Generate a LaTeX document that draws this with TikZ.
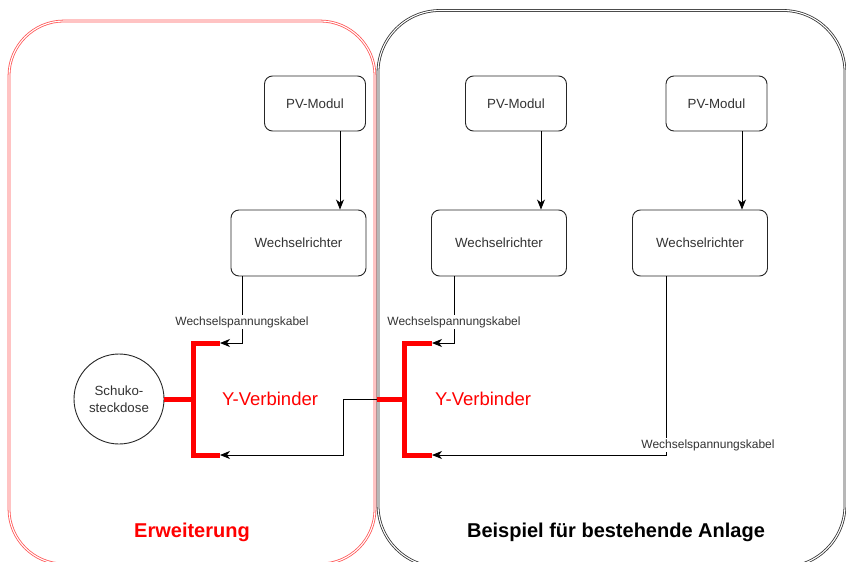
\documentclass[tikz,border=0pt]{standalone}
\usepackage{fontspec}
\setmainfont{Liberation Sans}
\usetikzlibrary{arrows.meta}
\definecolor{ygred}{HTML}{FF0000}
\definecolor{grpred}{HTML}{FF5555}
\definecolor{txtgray}{HTML}{333333}
\begin{document}
\begin{tikzpicture}[x=1pt,y=-1pt,
  groupred/.style={draw=grpred, line width=0.8pt, double=white, double distance=1.1pt, rounded corners=55pt},
  groupblack/.style={draw=black!80, line width=0.8pt, double=white, double distance=1.1pt, rounded corners=62pt},
  unit/.style={draw=black!85, line width=0.9pt, rounded corners=8pt, fill=white, text=txtgray,
    font=\fontsize{13.3}{16}\selectfont, inner sep=0pt},
  pvbox/.style={unit, minimum width=101pt, minimum height=55pt},
  wrbox/.style={unit, minimum width=135pt, minimum height=66pt},
  socket/.style={draw=black!85, line width=0.9pt, circle, minimum size=90pt, inner sep=0pt, text=txtgray,
    font=\fontsize{13.3}{17}\selectfont, align=center},
  arr/.style={draw=black, line width=0.9pt, -{Stealth[length=10pt,width=8pt,inset=3pt]}},
  lbl/.style={fill=white, text=txtgray, font=\fontsize{12}{14}\selectfont, inner sep=1pt},
  yconn/.style={draw=ygred, line width=5pt, line join=miter},
  ylbl/.style={text=ygred, font=\fontsize{18.5}{22}\selectfont},
  title/.style={font=\bfseries\fontsize{20}{24}\selectfont}
]
\useasboundingbox (0,0) rectangle (846,562);
\fill[white] (0,0) rectangle (846,562);
\begin{scope}
  \clip (0,0) rectangle (846,562);
  \draw[groupred] (9,21) rectangle (375,564);
  \draw[groupblack] (378,10.5) rectangle (845,567);
\end{scope}

% PV modules and inverters
\node[pvbox] (pv1) at (315,103.5) {PV-Modul};
\node[pvbox] (pv2) at (516,103.5) {PV-Modul};
\node[pvbox] (pv3) at (716.5,103.5) {PV-Modul};
\node[wrbox] (wr1) at (298.5,243) {Wechselrichter};
\node[wrbox] (wr2) at (499,243) {Wechselrichter};
\node[wrbox] (wr3) at (700,243) {Wechselrichter};

\node[socket] (sd) at (119,399) {Schuko-\\steckdose};

% Y connector coordinates
\coordinate (y1top) at (220,343);
\coordinate (y1bot) at (220,455);
\coordinate (y1mid) at (193,399);
\coordinate (y2top) at (432,343);
\coordinate (y2bot) at (432,455);
\coordinate (y2mid) at (404,399);
\coordinate (y2stem) at (377,399);

% arrows PV -> inverter
\draw[arr] ([xshift=25pt]pv1.south) -- ([xshift=25pt]pv1.south |- wr1.north);
\draw[arr] ([xshift=25pt]pv2.south) -- ([xshift=25pt]pv2.south |- wr2.north);
\draw[arr] ([xshift=25.5pt]pv3.south) -- ([xshift=25.5pt]pv3.south |- wr3.north);

% AC cables
\draw[arr] ([xshift=-56.5pt]wr1.south) |- (y1top);
\node[lbl] (l1) at (242,322) {Wechselspannungskabel};
\draw[arr] ([xshift=-45pt]wr2.south) |- (y2top);
\node[lbl] (l2) at (454,322) {Wechselspannungskabel};
\draw[arr] ([xshift=-34pt]wr3.south) |- (y2bot);
\node[lbl] (l3) at (708,445) {Wechselspannungskabel};
\draw[arr] (y2stem) -- (343,399) |- (y1bot);

% Y connectors
\draw[yconn] (y1top) -- (y1mid |- y1top) -- (y1mid |- y1bot) -- (y1bot);
\draw[yconn] (sd.east) -- (y1mid);
\draw[yconn] (y2top) -- (y2mid |- y2top) -- (y2mid |- y2bot) -- (y2bot);
\draw[yconn] (y2stem) -- (y2mid);
\node[ylbl] (yv1) at (270,399) {Y-Verbinder};
\node[ylbl] (yv2) at (483,399) {Y-Verbinder};

% titles
\node[title, text=ygred] (t1) at (192,532) {Erweiterung};
\node[title, text=black] (t2) at (616,532) {Beispiel für bestehende Anlage};
\end{tikzpicture}
\end{document}
